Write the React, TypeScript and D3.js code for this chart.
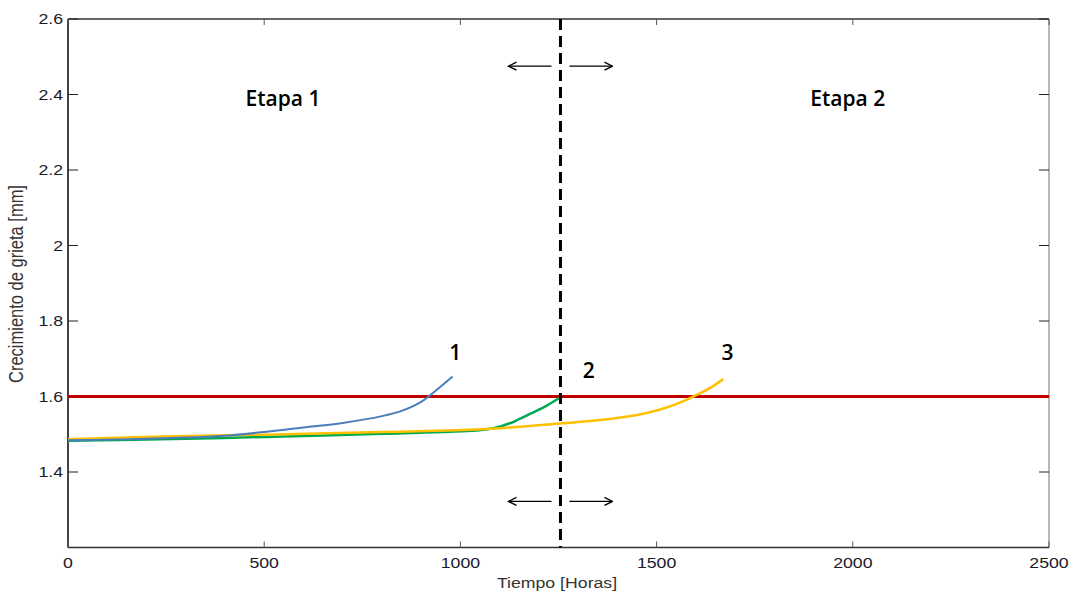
import React from "react";
import * as d3 from "d3";

const xTicks = [0, 500, 1000, 1500, 2000, 2500];
const yTicks = [1.4, 1.6, 1.8, 2.0, 2.2, 2.4, 2.6];
const yTickLabels = ["1.4", "1.6", "1.8", "2", "2.2", "2.4", "2.6"];

const curve1X = [0, 200, 400, 500, 600, 700, 800, 850, 900, 940, 980];
const curve1Y = [1.484, 1.488, 1.496, 1.506, 1.518, 1.53, 1.548, 1.562, 1.586, 1.618, 1.653];

const curve2X = [0, 300, 500, 800, 1000, 1060, 1100, 1140, 1180, 1220, 1255];
const curve2Y = [1.483, 1.488, 1.493, 1.501, 1.508, 1.512, 1.52, 1.535, 1.555, 1.576, 1.598];

const curve3X = [0, 250, 500, 800, 1000, 1100, 1260, 1350, 1450, 1500, 1550, 1600, 1640, 1670];
const curve3Y = [1.487, 1.494, 1.499, 1.506, 1.511, 1.516, 1.529, 1.537, 1.551, 1.563, 1.58, 1.603, 1.625, 1.646];

const thresholdY = 1.6;
const stageBoundaryX = 1255;
const curveLabels = [
  { text: "1", x: 987, y: 1.697 },
  { text: "2", x: 1327, y: 1.649 },
  { text: "3", x: 1681, y: 1.697 },
];
const stageLabels = [
  { text: "Etapa 1", x: 548, y: 2.37 },
  { text: "Etapa 2", x: 1987, y: 2.37 },
];
const arrowYs = [2.475, 1.322];

const W = 1076;
const H = 594;
const L = 68, R = 1049, T = 19, B = 547.5;
const SX = 1.18;

export default function App() {
  const x = d3.scaleLinear().domain([0, 2500]).range([L, R]);
  const y = d3.scaleLinear().domain([1.2, 2.6]).range([B, T]);
  const line = d3
    .line<[number, number]>()
    .x((d) => x(d[0]))
    .y((d) => y(d[1]))
    .curve(d3.curveCatmullRom.alpha(0.5));
  const toPts = (xs: number[], ys: number[]) => xs.map((v, i) => [v, ys[i]] as [number, number]);

  const bx = x(stageBoundaryX);
  const tickFont = "Liberation Sans, Arial, sans-serif";
  const annFont = "'Open Sans', 'Noto Sans', sans-serif";

  return (
    <svg
      width={W}
      height={H}
      style={{ position: "absolute", left: 0, top: 0, background: "#fff" }}
    >
      <defs>
        <marker id="ah" viewBox="0 0 10 10" refX="9" refY="5" markerWidth="10" markerHeight="10" markerUnits="userSpaceOnUse" orient="auto">
          <path d="M1,1 L9,5 L1,9" fill="none" stroke="#000" strokeWidth={1.3} />
        </marker>
      </defs>
      {/* frame */}
      <line x1={L} y1={T} x2={R} y2={T} stroke="#333" strokeWidth={1.5} />
      <line x1={R} y1={T} x2={R} y2={B} stroke="#888" strokeWidth={1.2} />
      <line x1={L} y1={T} x2={L} y2={B} stroke="#444" strokeWidth={2} />
      <line x1={L} y1={B} x2={R} y2={B} stroke="#333" strokeWidth={1.6} />
      {/* y ticks */}
      {yTicks.map((t, i) => (
        <g key={"y" + i}>
          <line x1={L} x2={L + 10} y1={y(t)} y2={y(t)} stroke="#222" strokeWidth={1} />
          <line x1={R} x2={R - 10} y1={y(t)} y2={y(t)} stroke="#222" strokeWidth={1} />
          <text
            transform={`translate(${L - 5}, ${y(t)}) scale(${SX}, 1)`}
            dy="0.36em"
            textAnchor="end"
            fontFamily={tickFont}
            fontSize={15}
            fill="#1a1a2a"
          >
            {yTickLabels[i]}
          </text>
        </g>
      ))}
      {/* x ticks */}
      {xTicks.map((t, i) => (
        <g key={"x" + i}>
          <line x1={x(t)} x2={x(t)} y1={B} y2={B - 6} stroke="#555" strokeWidth={1} />
          <line x1={x(t)} x2={x(t)} y1={T} y2={T + 6} stroke="#555" strokeWidth={1} />
          <text
            transform={`translate(${x(t)}, ${B + 20.5}) scale(${SX}, 1)`}
            textAnchor="middle"
            fontFamily={tickFont}
            fontSize={15}
            fill="#1a1a2a"
          >
            {t}
          </text>
        </g>
      ))}
      {/* axis titles */}
      <text
        transform={`translate(557, 588) scale(${SX}, 1)`}
        textAnchor="middle"
        fontFamily={tickFont}
        fontSize={15}
        fill="#333"
      >
        Tiempo [Horas]
      </text>
      <text
        transform={`translate(23, 284) rotate(-90) scale(1, ${SX})`}
        textAnchor="middle"
        fontFamily={tickFont}
        fontSize={16.5}
        fill="#333"
      >
        Crecimiento de grieta [mm]
      </text>
      {/* threshold */}
      <line x1={x(0)} x2={x(2500)} y1={y(thresholdY)} y2={y(thresholdY)} stroke="#c00000" strokeWidth={3} />
      {/* curves */}
      <path d={line(toPts(curve2X, curve2Y)) || ""} fill="none" stroke="#00a94f" strokeWidth={2.5} />
      <path d={line(toPts(curve3X, curve3Y)) || ""} fill="none" stroke="#ffc000" strokeWidth={2.5} />
      <path d={line(toPts(curve1X, curve1Y)) || ""} fill="none" stroke="#4a7ebb" strokeWidth={2} />
      {/* boundary */}
      <line x1={bx} x2={bx} y1={T} y2={B} stroke="#000" strokeWidth={3} strokeDasharray="11 6" />
      {/* arrows */}
      {arrowYs.map((v, i) => (
        <g key={"a" + i}>
          <line x1={bx - 9} x2={bx - 52} y1={y(v)} y2={y(v)} stroke="#000" strokeWidth={1.3} markerEnd="url(#ah)" />
          <line x1={bx + 9} x2={bx + 52} y1={y(v)} y2={y(v)} stroke="#000" strokeWidth={1.3} markerEnd="url(#ah)" />
        </g>
      ))}
      {/* labels */}
      {stageLabels.map((s, i) => (
        <text key={"s" + i} x={x(s.x)} y={y(s.y)} textAnchor="middle" fontFamily={annFont} fontSize={21} fontWeight={600} fill="#000">
          {s.text}
        </text>
      ))}
      {curveLabels.map((s, i) => (
        <text key={"c" + i} x={x(s.x)} y={y(s.y)} textAnchor="middle" fontFamily={annFont} fontSize={21} fontWeight={600} fill="#000">
          {s.text}
        </text>
      ))}
    </svg>
  );
}
